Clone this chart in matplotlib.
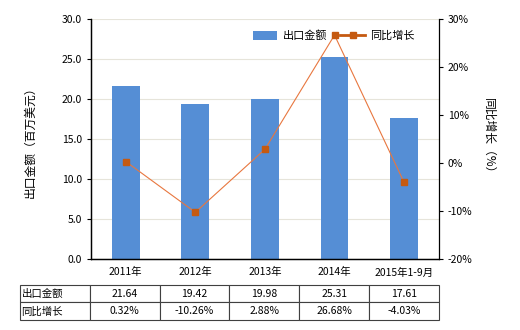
import matplotlib.pyplot as plt
import numpy as np

plt.rcParams['font.family'] = ['Noto Sans CJK SC', 'DejaVu Sans']
plt.rcParams['font.size'] = 7.5

categories = ['2011年', '2012年', '2013年', '2014年', '2015年1-9月']
export_value = [21.64, 19.42, 19.98, 25.31, 17.61]
growth = [0.32, -10.26, 2.88, 26.68, -4.03]
value_labels = ['21.64', '19.42', '19.98', '25.31', '17.61']
growth_labels = ['0.32%', '-10.26%', '2.88%', '26.68%', '-4.03%']

bar_color = '#558ED5'
line_color = '#E8773F'
marker_color = '#C55A11'

fig = plt.figure(figsize=(5.2, 3.3), dpi=100)
ax = fig.add_axes([0.175, 0.215, 0.669, 0.727])
ax2 = ax.twinx()

x = np.arange(len(categories))
bars = ax.bar(x, export_value, width=0.4, color=bar_color, zorder=2)
ax.set_xlim(-0.5, len(categories) - 0.5)
ax.set_ylim(0, 30)
ax.set_yticks(np.arange(0, 31, 5))
ax.set_yticklabels(['%.1f' % v for v in np.arange(0, 31, 5)])
ax.grid(axis='y', color='#E6E4DA', linewidth=0.8, zorder=0)
ax.set_axisbelow(True)
ax.set_xticks(x)
ax.set_xticklabels(categories)
ax.tick_params(axis='x', length=0, pad=6)
ax.tick_params(axis='y', length=3, width=0.8)
ax.set_ylabel('出口金额（百万美元）', labelpad=18, fontsize=8.5)

ax2.plot(x, growth, color=line_color, linewidth=0.8, marker='s', markersize=4,
         markerfacecolor=marker_color, markeredgecolor=marker_color, zorder=3)
ax2.set_ylim(-20, 30)
ax2.set_yticks(np.arange(-20, 31, 10))
ax2.set_yticklabels(['%d%%' % v for v in np.arange(-20, 31, 10)])
ax2.tick_params(axis='y', length=3, width=0.8)
ax2.set_ylabel('同比增长（%）', rotation=270, labelpad=16, fontsize=8.5)

for a in (ax, ax2):
    a.spines['top'].set_visible(False)
    for s in ('left', 'right', 'bottom'):
        a.spines[s].set_linewidth(0.9)
ax.spines['right'].set_visible(False)

leg_line, = ax2.plot([], [], color=marker_color, linewidth=2, marker='s', markersize=4,
                     markerfacecolor=marker_color, markeredgecolor=marker_color)
ax.legend([bars, leg_line], ['出口金额', '同比增长'], ncol=2, frameon=False,
          loc='upper right', bbox_to_anchor=(0.96, 0.995), handlelength=2.2,
          handleheight=0.9, handletextpad=0.5, columnspacing=1.2, fontsize=8)

cell_text = [['出口金额'] + value_labels, ['同比增长'] + growth_labels]
tbl = ax.table(cellText=cell_text, cellLoc='center', bbox=[-0.204, -0.254, 1.204, 0.146])
tbl.auto_set_font_size(False)
tbl.set_fontsize(7.5)
for (r, c), cell in tbl.get_celld().items():
    cell.set_linewidth(0.8)
    cell.set_edgecolor('#404040')
    if c == 0:
        cell._loc = 'left'
        cell.PAD = 0.02
        cell.get_text().set_horizontalalignment('left')

fig.savefig('out.png', dpi=100)
